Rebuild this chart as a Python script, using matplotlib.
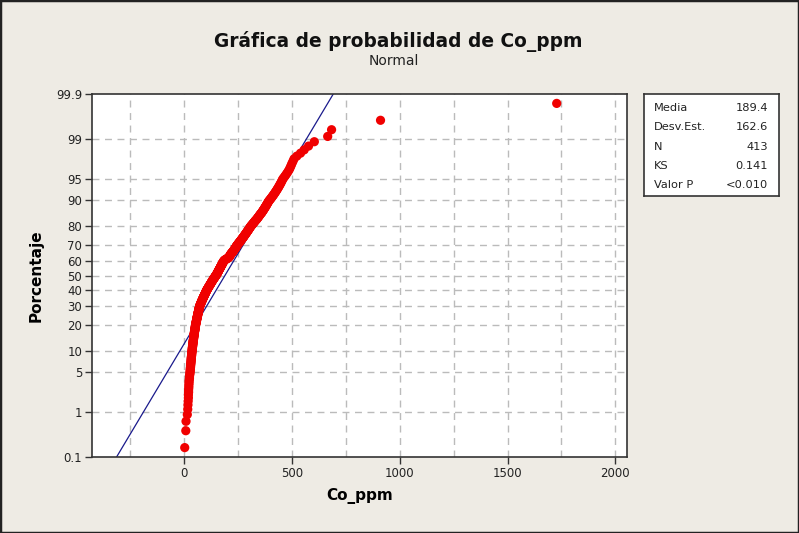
import matplotlib
matplotlib.use("Agg")
import matplotlib.pyplot as plt
from statistics import NormalDist

# Datos (Co_ppm ordenado, N = 413)
co_ppm = [
    3, 8, 9,
    15, 17, 18, 19, 20,
    20, 21, 21, 22, 22, 23, 23, 24, 25, 25, 26, 27, 28,
    28, 29, 29, 30, 30, 31, 31, 32, 32, 33, 33, 33, 34, 34, 35, 35, 35, 36, 36, 37, 37,
    38, 38, 38, 39, 39, 40, 40, 40, 41, 41, 42, 42, 42, 43, 43, 44, 44, 44, 45, 45,
    46, 46, 46, 47, 47, 48, 48, 48, 49, 49, 50, 50, 50, 51, 51, 52, 52, 52, 53, 53, 53,
    54, 54, 55, 55, 56, 56, 57, 57, 58, 58, 58, 59, 59, 60, 60, 61, 61, 62, 62, 63,
    63, 63, 64, 64, 65, 65, 66, 66, 67, 67, 68, 68, 68, 69, 69, 70, 70, 71, 71, 72, 72,
    73, 73, 74, 75, 76, 76, 77, 78, 79, 79, 80, 81, 82, 82, 83, 84, 85, 86, 86, 87,
    88, 89, 90, 90, 91, 92, 93, 94, 94, 95, 96, 97, 98, 99, 99, 100, 101, 102, 103, 103,
    104, 105,
    106, 107, 108, 109, 110, 111, 112, 113, 114, 115, 116, 117, 118, 119, 120, 121,
    122, 123, 124, 125, 126, 127, 128, 129, 130, 131, 132, 133, 134, 135, 136, 137,
    139, 140, 141, 142, 143, 144, 145, 146, 148,
    149, 150, 151, 152, 153, 153, 154, 155, 156, 157, 158, 159, 160, 161, 161, 162,
    163, 164, 165, 166, 167, 168, 169, 169, 170, 171, 172, 173, 174, 175, 176, 177,
    177, 178, 179, 180, 181, 182, 183, 184, 185,
    187, 189, 191, 194, 197, 200, 203, 205, 207, 209, 210, 211, 212, 213, 214, 215,
    216, 217, 218, 220, 222,
    223, 224, 226, 227, 228, 230, 231, 232, 234, 235, 236, 237, 238, 240, 241, 242,
    243, 244, 245, 247, 248,
    250, 251, 253, 254, 256, 257, 259, 260, 262, 263, 265, 266, 268, 269, 271, 272,
    274, 275, 277, 278, 280, 281, 283, 284, 286, 287, 289, 290, 292, 293, 295, 296,
    298, 299, 301, 302, 304, 305, 307, 308, 310,
    312, 314, 316, 318, 320, 322, 324, 326, 328, 330, 332, 335, 337, 339, 341, 343,
    345, 347, 349, 351, 353, 355, 358, 360, 362, 364, 366, 368, 370, 372, 374, 376,
    378, 380, 382, 384, 386, 388, 390, 392, 395,
    398, 401, 404, 407, 410, 413, 416, 419, 422, 425, 428, 431, 434, 437, 440, 443,
    446, 449, 452, 455, 458,
    463, 468, 473, 478, 483, 488, 492, 496, 500, 505, 510,
    523, 540, 557, 577, 604,
    666, 684, 911, 1728,
]

media = 189.4
desv = 162.6
tabla_nombres = ["Media", "Desv.Est.", "N", "KS", "Valor P"]
tabla_valores = ["189.4", "162.6", "413", "0.141", "<0.010"]

y_ticks = [0.1, 1, 5, 10, 20, 30, 40, 50, 60, 70, 80, 90, 95, 99, 99.9]
x_ticks = [0, 500, 1000, 1500, 2000]
x_grid = [-250, 0, 250, 500, 750, 1000, 1250, 1500, 1750, 2000]

nd = NormalDist()
def z(p):
    return nd.inv_cdf(p / 100.0)

n = len(co_ppm)
datos = sorted(co_ppm)
# rangos medianos (Benard), como Minitab
zs = [nd.inv_cdf((i + 1 - 0.3) / (n + 0.4)) for i in range(n)]

fondo = "#EEEBE4"
fig = plt.figure(figsize=(7.99, 5.33), dpi=100, facecolor=fondo)
plt.rcParams['font.family'] = ['DejaVu Sans']

# borde exterior
fig.patches.append(plt.Rectangle((0, 0), 1, 1, transform=fig.transFigure,
                                 fill=False, edgecolor="#222222", linewidth=2.5))

ax = fig.add_axes([92/799, 1-457/533, 535/799, 363/533])
ax.set_facecolor("white")

zmin, zmax = z(0.1), z(99.9)
ax.set_ylim(zmin, zmax)
ax.set_xlim(-427, 2054)

for g in x_grid:
    ax.axvline(g, color="#BBBBBB", linestyle=(0, (5, 4)), linewidth=1, zorder=0)
for t in y_ticks[1:-1]:
    ax.axhline(z(t), color="#BBBBBB", linestyle=(0, (5, 4)), linewidth=1, zorder=0)

# linea ajustada normal
ax.plot([media + desv * zmin, media + desv * zmax], [zmin, zmax],
        color="#1A1A8C", linewidth=0.9, zorder=2)

ax.scatter(datos, zs, s=44, color="#F00000", edgecolors="none", zorder=3)

ax.set_yticks([z(t) for t in y_ticks])
ax.set_yticklabels([("%g" % t) for t in y_ticks])
ax.set_xticks(x_ticks)
ax.tick_params(axis="both", labelsize=8.5, length=5, width=1, color="#333333",
               labelcolor="#222222", pad=2)
for s in ax.spines.values():
    s.set_color("#333333")
    s.set_linewidth(1.2)

ax.set_xlabel("Co_ppm", fontsize=11, fontweight="bold", labelpad=6)
ax.set_ylabel("Porcentaje", fontsize=11, fontweight="bold", labelpad=9)

fig.text(398/799, 1-42/533, "Gráfica de probabilidad de Co_ppm", ha="center",
         va="center", fontsize=13.4, fontweight="bold", color="#111111")
fig.text(394/799, 1-61/533, "Normal", ha="center", va="center",
         fontsize=10, color="#222222")

# tabla de estadisticas
caja = fig.add_axes([644/799, 1-196/533, 135/799, 102/533])
caja.set_xticks([])
caja.set_yticks([])
caja.set_facecolor("white")
for s in caja.spines.values():
    s.set_color("#333333")
    s.set_linewidth(1.2)
for i, (nom, val) in enumerate(zip(tabla_nombres, tabla_valores)):
    yy = 1 - (14 + i * 19.3) / 102
    caja.text(10/135, yy, nom, ha="left", va="center", fontsize=8.2, color="#222222",
              transform=caja.transAxes)
    caja.text(124/135, yy, val, ha="right", va="center", fontsize=8.2, color="#222222",
              transform=caja.transAxes)

fig.savefig("out.png", dpi=100, facecolor=fondo)
